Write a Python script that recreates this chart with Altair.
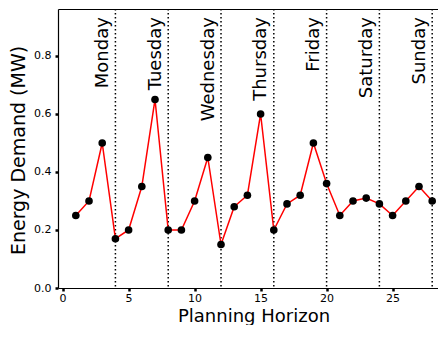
import altair as alt
import pandas as pd

# ---- data ----
periods = list(range(1, 29))
demand = [0.25, 0.30, 0.50, 0.17, 0.20, 0.35, 0.65, 0.20, 0.20, 0.30,
          0.45, 0.15, 0.28, 0.32, 0.60, 0.20, 0.29, 0.32, 0.50, 0.36,
          0.25, 0.30, 0.31, 0.29, 0.25, 0.30, 0.35, 0.30]
days = ["Monday", "Tuesday", "Wednesday", "Thursday", "Friday", "Saturday", "Sunday"]
day_ends = [4, 8, 12, 16, 20, 24, 28]
label_level = [0.934] * 7
x_ticks = [0, 5, 10, 15, 20, 25]
y_ticks = [0.0, 0.2, 0.4, 0.6, 0.8]

df = pd.DataFrame({"t": periods, "d": demand})
dd = pd.DataFrame({"t": day_ends, "day": days, "y": label_level})

FONT = "DejaVu Sans"
W, H = 380, 279

xscale = alt.Scale(domain=[-0.35, 28.44], nice=False, zero=False)
yscale = alt.Scale(domain=[0, 0.962], nice=False, zero=True)

x_axis = alt.Axis(
    title="Planning Horizon", values=x_ticks, format="d", grid=False,
    tickSize=3, tickWidth=2.5, tickColor="black",
    domainColor="black", domainWidth=1.2,
    labelFontSize=11, labelFont=FONT, labelColor="black", labelPadding=1,
    titleFontSize=18, titleFont=FONT, titleFontWeight="normal", titleColor="black",
    titleX=195.5, titleY=33, titleBaseline="alphabetic", titleAlign="center",
)
top_axis = alt.Axis(
    orient="top", title=None, labels=False, ticks=False, grid=False,
    domainColor="black", domainWidth=1.2,
)
y_axis = alt.Axis(
    title="Energy Demand (MW)", values=y_ticks, format=".1f", grid=False,
    tickSize=3, tickWidth=2.5, tickColor="black",
    domainColor="black", domainWidth=1.2,
    labelFontSize=11, labelFont=FONT, labelColor="black", labelPadding=4,
    titleFontSize=19, titleFont=FONT, titleFontWeight="normal", titleColor="black",
    titleAngle=270, titleAlign="center", titleBaseline="alphabetic",
    titleX=-34, titleY=141,
)

rules = alt.Chart(dd).mark_rule(
    color="black", strokeWidth=1.5, strokeDash=[1.5, 2.5]
).encode(x=alt.X("t:Q", scale=xscale, axis=top_axis))

line = alt.Chart(df).mark_line(color="red", strokeWidth=1.5).encode(
    x=alt.X("t:Q", scale=xscale, axis=x_axis),
    y=alt.Y("d:Q", scale=yscale, axis=y_axis),
)

points = alt.Chart(df).mark_circle(color="black", opacity=1, size=58).encode(
    x=alt.X("t:Q", scale=xscale, axis=None),
    y=alt.Y("d:Q", scale=yscale, axis=y_axis),
)

labels = alt.Chart(dd).mark_text(
    angle=270, align="right", baseline="bottom", dy=-3.5,
    fontSize=18, font=FONT, color="black",
).encode(
    x=alt.X("t:Q", scale=xscale, axis=None),
    y=alt.Y("y:Q", scale=yscale, axis=y_axis),
    text="day:N",
)

chart = alt.layer(rules, line, points, labels).resolve_axis(
    x="independent"
).properties(
    width=W, height=H,
    autosize=alt.AutoSizeParams(type="none"),
    padding={"left": 50, "top": 1, "right": 0, "bottom": 37},
).configure_view(stroke=None)

chart.save("out.html", embed_options={"renderer": "svg", "actions": False})
